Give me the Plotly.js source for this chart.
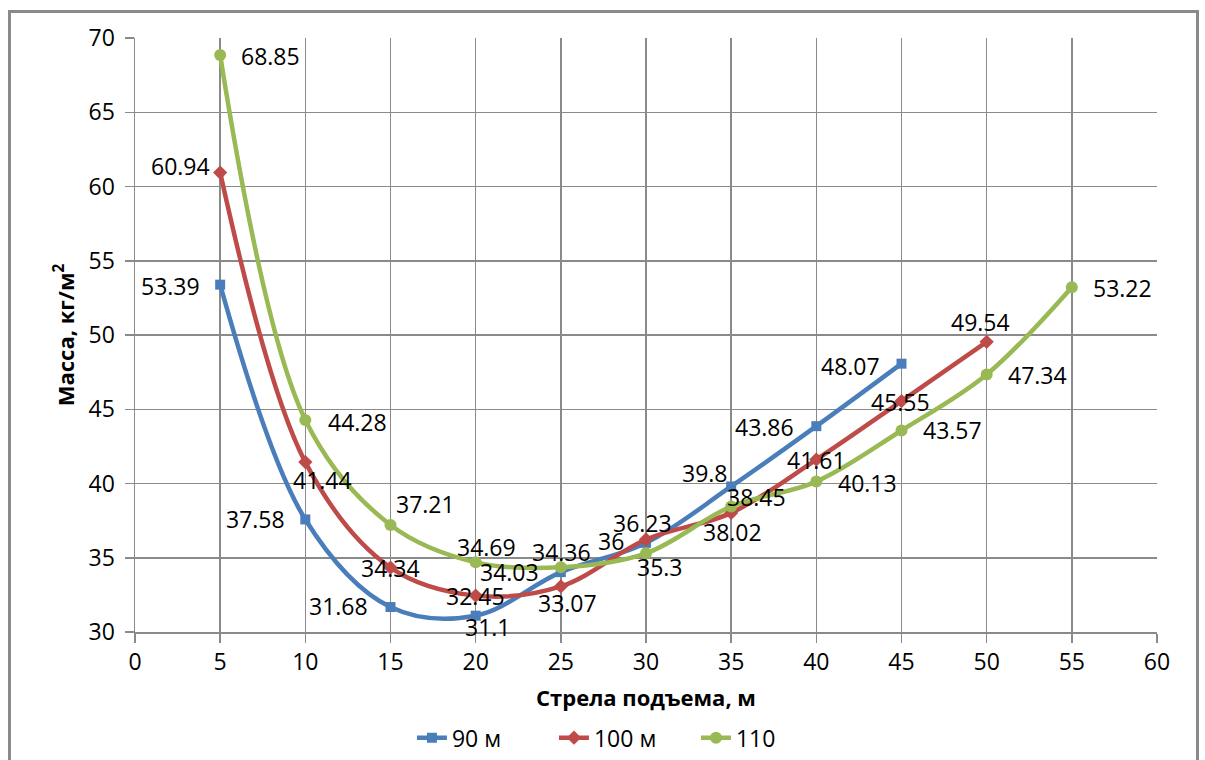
<!DOCTYPE html>
<html>
<head>
<meta charset="utf-8">
<script src="https://cdn.plot.ly/plotly-3.0.1.min.js"></script>
<style>
  html, body { margin: 0; padding: 0; background: #ffffff; }
  #wrap { position: relative; width: 1205px; height: 760px; overflow: hidden; }
  #chart { width: 1205px; height: 760px; }
  #frame { position: absolute; left: 8px; top: 10px; width: 1191px; height: 800px;
           border: 3px solid #8a8a8a; pointer-events: none; box-sizing: border-box; }
</style>
</head>
<body>
<div id="wrap">
  <div id="chart"></div>
  <div id="frame"></div>
</div>
<script>
// Стрела подъема, м
const rise90  = [5, 10, 15, 20, 25, 30, 35, 40, 45];
const rise100 = [5, 10, 15, 20, 25, 30, 35, 40, 45, 50];
const rise110 = [5, 10, 15, 20, 25, 30, 35, 40, 45, 50, 55];

// Масса, кг/м²
const mass90  = [53.39, 37.58, 31.68, 31.1, 34.03, 36, 39.8, 43.86, 48.07];
const mass100 = [60.94, 41.44, 34.34, 32.45, 33.07, 36.23, 38.02, 41.61, 45.55, 49.54];
const mass110 = [68.85, 44.28, 37.21, 34.69, 34.36, 35.3, 38.45, 40.13, 43.57, 47.34, 53.22];

const seriesNames = ['90 м', '100 м', '110'];
const colors = ['#4a7ebb', '#be4b48', '#98b954'];
const symbols = ['square', 'diamond', 'circle'];
const markerSizes = [10, 11, 12];

// label placement around each point: [dx, dy] in screen pixels (dy downward)
const labelOffsets90  = [[-50, 1], [-50, 0], [-52, -1], [12, 11], [-51, 0], [-35, -2], [-26, -13], [-52, 1], [-51, 2]];
const labelOffsets100 = [[-40, -7], [17, 18], [0, 0], [0, 0], [7, 17], [-4, -16], [1, 19], [0, 0], [-1, 1], [-6, -20]];
const labelOffsets110 = [[50, 1], [52, 2], [35, -21], [11, -15], [1, -15], [14, 14], [25, -10], [51, 1], [51, 0], [51, 0], [51, 1]];

const FONT = 'Open Sans, Liberation Sans, sans-serif';
const xs = [rise90, rise100, rise110];
const ys = [mass90, mass100, mass110];
const offs = [labelOffsets90, labelOffsets100, labelOffsets110];

const traces = xs.map((x, i) => ({
  type: 'scatter',
  mode: 'lines+markers',
  name: seriesNames[i],
  x: x,
  y: ys[i],
  line: { color: colors[i], width: 4.5, shape: 'spline', smoothing: 1 },
  marker: { color: colors[i], symbol: symbols[i], size: markerSizes[i] }
}));

const annotations = [];
xs.forEach((x, i) => {
  x.forEach((xv, j) => {
    annotations.push({
      x: xv, y: ys[i][j], xref: 'x', yref: 'y',
      text: String(ys[i][j]),
      showarrow: false,
      xanchor: 'center', yanchor: 'middle',
      xshift: offs[i][j][0], yshift: -offs[i][j][1],
      font: { family: FONT, size: 23, color: '#000000' }
    });
  });
});

const gridColor = '#8a8a8a';

const layout = {
  width: 1205, height: 760,
  paper_bgcolor: '#ffffff', plot_bgcolor: '#ffffff',
  margin: { l: 135, r: 48, t: 38, b: 128, autoexpand: false },
  showlegend: true,
  legend: {
    orientation: 'h', x: 0.271, xanchor: 'left', y: -0.178, yanchor: 'middle',
    font: { family: FONT, size: 23, color: '#000000' },
    entrywidth: 97, entrywidthmode: 'pixels', tracegroupgap: 0
  },
  xaxis: {
    range: [0, 60], dtick: 5, tick0: 0, automargin: false,
    showgrid: true, gridcolor: gridColor, gridwidth: 1.5,
    showline: true, linecolor: gridColor, linewidth: 1.5,
    ticks: 'outside', ticklen: 9, tickcolor: gridColor, tickwidth: 1.5,
    zeroline: false,
    tickfont: { family: FONT, size: 23, color: '#000000' },
    title: { text: '<b>Стрела подъема, м</b>', standoff: 14,
             font: { family: FONT, size: 22, color: '#000000' } }
  },
  yaxis: {
    range: [30, 70], dtick: 5, tick0: 30, automargin: false,
    showgrid: true, gridcolor: gridColor, gridwidth: 1.5,
    showline: true, linecolor: gridColor, linewidth: 1.5,
    ticks: 'outside', ticklen: 9, tickcolor: gridColor, tickwidth: 1.5,
    ticklabelstandoff: 5,
    zeroline: false,
    tickfont: { family: FONT, size: 23, color: '#000000' },
    title: { text: '<b>Масса, кг/м<sup>2</sup></b>', standoff: 8,
             font: { family: FONT, size: 22, color: '#000000' } }
  },
  annotations: annotations
};

Plotly.newPlot('chart', traces, layout, { displayModeBar: false, staticPlot: true });
</script>
</body>
</html>
